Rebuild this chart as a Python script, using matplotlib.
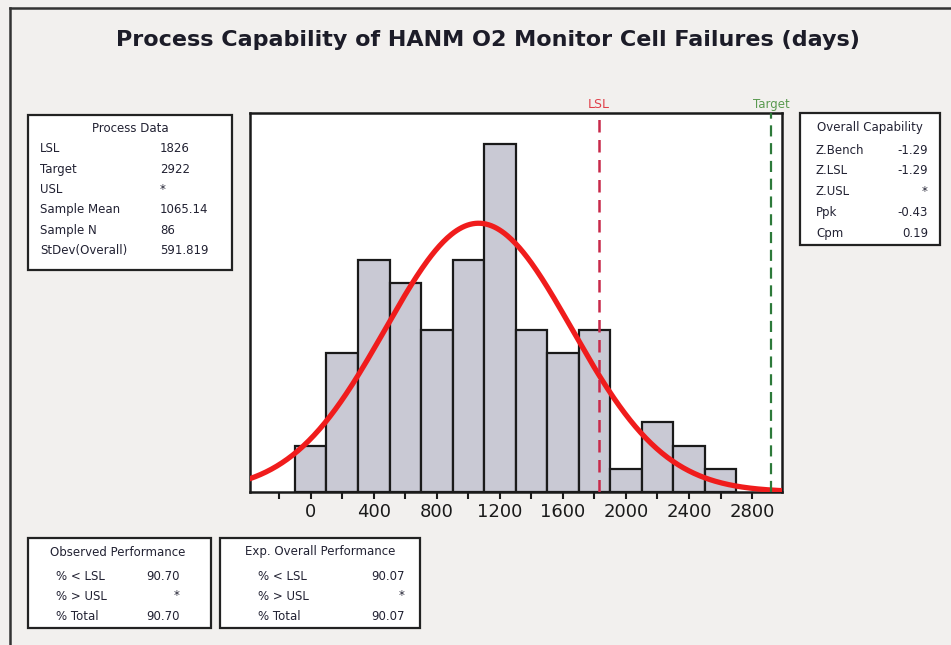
import numpy as np
import matplotlib.pyplot as plt
from matplotlib.patches import Rectangle
from matplotlib.lines import Line2D

# histogram (bin centres, width 200)
bin_centers = [0, 200, 400, 600, 800, 1000, 1200, 1400, 1600, 1800, 2000, 2200, 2400, 2600]
counts = [2, 6, 10, 9, 7, 10, 15, 7, 6, 7, 1, 3, 2, 1]
bin_width = 200

lsl = 1826
target = 2922
mean = 1065.14
stdev = 591.819
n = 86

process_labels = ['LSL', 'Target', 'USL', 'Sample Mean', 'Sample N', 'StDev(Overall)']
process_values = ['1826', '2922', '*', '1065.14', '86', '591.819']
cap_labels = ['Z.Bench', 'Z.LSL', 'Z.USL', 'Ppk', 'Cpm']
cap_values = ['-1.29', '-1.29', '*', '-0.43', '0.19']
perf_labels = ['% < LSL', '% > USL', '% Total']
observed_values = ['90.70', '*', '90.70']
expected_values = ['90.07', '*', '90.07']

W, H = 951, 645
bg = '#f2f0ee'
fig = plt.figure(figsize=(W / 100, H / 100), dpi=100, facecolor=bg)


def fx(px):
    return px / W


def fy(py):
    return 1 - py / H


def box(x0, y0, x1, y1):
    fig.patches.append(Rectangle((fx(x0), fy(y1)), fx(x1) - fx(x0), fy(y0) - fy(y1),
                                 transform=fig.transFigure, facecolor='white',
                                 edgecolor='#222222', linewidth=1.6))


def txt(px, py, s, ha='left', size=8.5, **kw):
    fig.text(fx(px), fy(py), s, ha=ha, va='center', fontsize=size, color='#222233', **kw)


# outer frame (cropped on right and bottom)
fig.add_artist(Line2D([fx(10), fx(10)], [fy(8), 0], transform=fig.transFigure, color='#333333', lw=1.8))
fig.add_artist(Line2D([fx(10), 1], [fy(8), fy(8)], transform=fig.transFigure, color='#333333', lw=1.8))

fig.text(fx(488), fy(40), 'Process Capability of HANM O2 Monitor Cell Failures (days)',
         ha='center', va='center', fontsize=16, fontweight='bold', color='#1c1c28')

ax = fig.add_axes([fx(250), fy(492), fx(782) - fx(250), fy(113) - fy(492)])
ax.set_facecolor('white')
ax.bar(bin_centers, counts, width=bin_width, color='#c9c9d4', edgecolor='#1a1a1a', linewidth=1.6, zorder=2)

xs = np.linspace(-385, 2990, 400)
pdf = n * bin_width * np.exp(-0.5 * ((xs - mean) / stdev) ** 2) / (stdev * np.sqrt(2 * np.pi))
ax.plot(xs, pdf, color='#f01c1c', linewidth=3.8, zorder=3)

ax.axvline(lsl, color='#c8294a', linestyle=(0, (5, 3)), linewidth=1.8, zorder=4)
ax.axvline(target, color='#2d7a3a', linestyle=(0, (5, 3)), linewidth=1.6, zorder=4)
ax.text(lsl, 1.005, 'LSL', transform=ax.get_xaxis_transform(), ha='center', va='bottom',
        color='#e0404a', fontsize=9)
ax.text(target, 1.005, 'Target', transform=ax.get_xaxis_transform(), ha='center', va='bottom',
        color='#5a9a50', fontsize=8.5)

ax.set_xlim(-385, 2990)
ax.set_ylim(0, 16.35)
ax.set_xticks([0, 400, 800, 1200, 1600, 2000, 2400, 2800])
ax.set_xticks([-200, 200, 600, 1000, 1400, 1800, 2200, 2600], minor=True)
ax.tick_params(axis='x', which='both', length=5, width=1.5, labelsize=13, colors='#1a1a1a', pad=3)
ax.set_yticks([])
for s in ax.spines.values():
    s.set_linewidth(1.8)
    s.set_color('#1a1a1a')

# Process Data
box(28, 115, 232, 270)
txt(130, 129, 'Process Data', ha='center')
for i, (lab, val) in enumerate(zip(process_labels, process_values)):
    y = 149 + i * 20.3
    txt(40, y, lab)
    txt(160, y, val)

# Overall Capability
box(800, 113, 940, 245)
txt(870, 128, 'Overall Capability', ha='center')
for i, (lab, val) in enumerate(zip(cap_labels, cap_values)):
    y = 150 + i * 20.8
    txt(816, y, lab)
    txt(928, y, val, ha='right')

# Observed Performance
box(28, 538, 211, 628)
txt(118, 552, 'Observed Performance', ha='center')
for i, (lab, val) in enumerate(zip(perf_labels, observed_values)):
    y = 576 + i * 20
    txt(56, y, lab)
    txt(180, y, val, ha='right')

# Exp. Overall Performance
box(220, 538, 420, 628)
txt(320, 552, 'Exp. Overall Performance', ha='center')
for i, (lab, val) in enumerate(zip(perf_labels, expected_values)):
    y = 576 + i * 20
    txt(258, y, lab)
    txt(405, y, val, ha='right')

fig.savefig('out.png', dpi=100, facecolor=bg)
